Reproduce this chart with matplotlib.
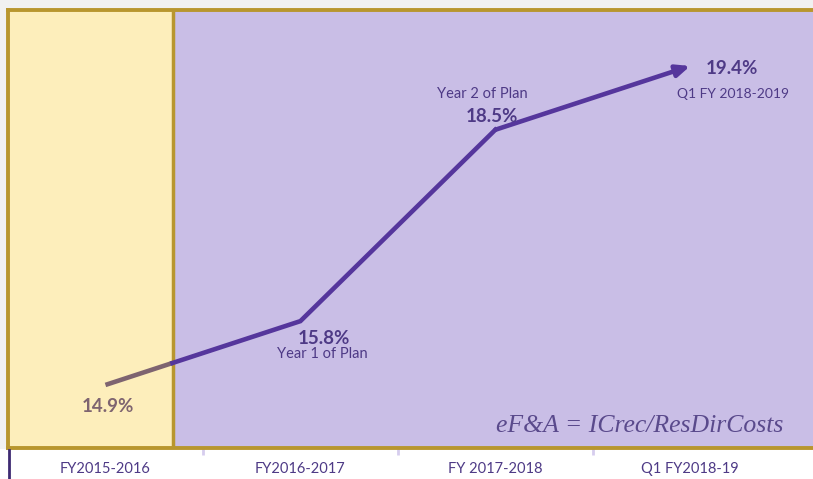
import numpy as np
import matplotlib
matplotlib.use("Agg")
import matplotlib.pyplot as plt
from matplotlib.patches import Rectangle

# data
periods = ["FY2015-2016", "FY2016-2017", "FY 2017-2018", "Q1 FY2018-19"]
rates = [14.9, 15.8, 18.5, 19.4]
value_labels = ["14.9%", "15.8%", "18.5%", "19.4%"]
notes = ["", "Year 1 of Plan", "Year 2 of Plan", "Q1 FY 2018-2019"]
baseline_end = 0.344   # where the baseline (yellow) band stops

gold = "#b8962e"
purple = "#55369c"
brown = "#7e6470"
txt_purple = "#4e3a86"

plt.rcParams["font.family"] = ["Lato", "DejaVu Sans"]

fig = plt.figure(figsize=(8.13, 4.79), dpi=100, facecolor="#f1f1f1")
# white strip under the plot
fig.patches.append(Rectangle((0, 0), 1, 1 - 449 / 479, transform=fig.transFigure,
                             facecolor="white", edgecolor="none", zorder=-1))
ax = fig.add_axes([8 / 813, 1 - 448 / 479, 1 - 8 / 813, 438 / 479])
ax.set_facecolor("#c9bee6")
ax.set_xlim(-0.5, 3.63)
ax.set_ylim(14.01, 20.19)

ax.axvspan(-0.5, baseline_end, color="#fdeebb", zorder=0)
ax.axvline(baseline_end, color=gold, lw=2.5, zorder=1)

x = np.arange(len(rates))
y_split = np.interp(baseline_end, x, rates)
ax.plot([0, baseline_end], [rates[0], y_split], color=brown, lw=3.3,
        solid_capstyle="butt", zorder=3)
ax.plot([baseline_end] + list(x[1:-1]), [y_split] + rates[1:-1], color=purple,
        lw=3.3, solid_joinstyle="miter", zorder=3)
ax.annotate("", xy=(x[-1], rates[-1]), xytext=(x[-2], rates[-2]),
            arrowprops=dict(arrowstyle="-|>,head_length=0.8,head_width=0.35",
                            color=purple, lw=3.3, shrinkA=0, shrinkB=0), zorder=3)

# point labels
big, small = 13.5, 10.5
ax.text(x[0] + 0.01, rates[0] - 0.31, value_labels[0], color=brown, fontsize=big,
        fontweight="bold", ha="center", va="center")
ax.text(x[1] + 0.12, rates[1] - 0.24, value_labels[1], color=txt_purple, fontsize=big,
        fontweight="bold", ha="center", va="center")
ax.text(x[1] + 0.11, rates[1] - 0.47, notes[1], color=txt_purple, fontsize=small,
        ha="center", va="center")
ax.text(x[2] - 0.065, rates[2] + 0.5, notes[2], color=txt_purple, fontsize=small,
        ha="center", va="center")
ax.text(x[2] - 0.015, rates[2] + 0.19, value_labels[2], color=txt_purple, fontsize=big,
        fontweight="bold", ha="center", va="center")
ax.text(x[3] + 0.215, rates[3] - 0.03, value_labels[3], color=txt_purple, fontsize=big,
        fontweight="bold", ha="center", va="center")
ax.text(x[3] + 0.22, rates[3] - 0.39, notes[3], color=txt_purple, fontsize=10,
        ha="center", va="center")

ax.text(0.963, 0.025, "eF&A = ICrec/ResDirCosts", transform=ax.transAxes,
        family="Liberation Serif", style="italic", fontsize=18.5, color="#5a4a8c",
        ha="right", va="bottom")

# axes styling
for side in ["left", "top", "bottom"]:
    ax.spines[side].set_color(gold)
    ax.spines[side].set_linewidth(2.8)
ax.spines["right"].set_visible(False)
ax.set_yticks([])
ax.set_xticks(x)
ax.set_xticklabels(periods, color=txt_purple, fontsize=10.5)
ax.tick_params(axis="x", which="major", length=0, pad=10)
ax.set_xticks(x[:-1] + 0.5, minor=True)
ax.tick_params(axis="x", which="minor", length=5, width=2, color="#d6cdee")

# dark left rule under the plot
fig.add_artist(plt.Line2D([8.5 / 813, 8.5 / 813], [0, 1 - 450 / 479],
                          color="#3d2a72", lw=2, transform=fig.transFigure))

fig.savefig("out.png", dpi=100, facecolor=fig.get_facecolor())
